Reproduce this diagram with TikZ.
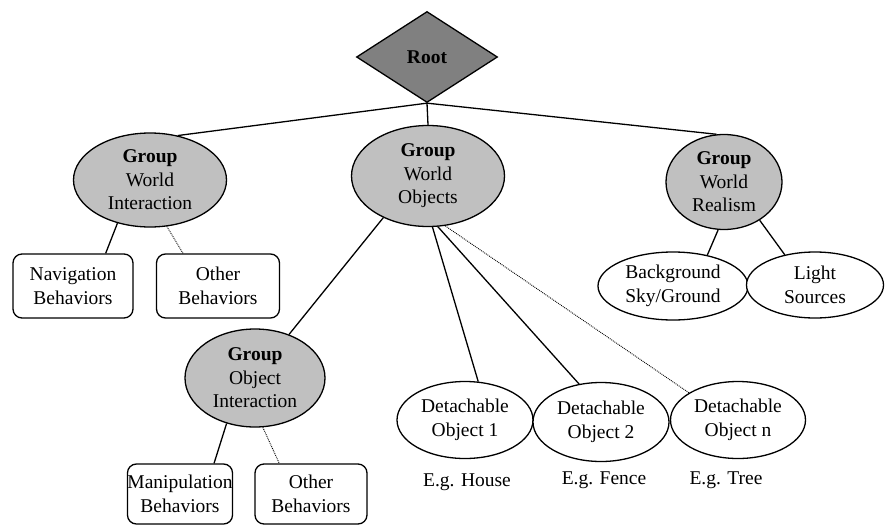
\documentclass[tikz,border=0pt]{standalone}
\usepackage{fontspec}
\setmainfont{Liberation Serif}
\usetikzlibrary{shapes.geometric}
\definecolor{rootgray}{HTML}{808080}
\definecolor{groupgray}{HTML}{C0C0C0}
\tikzset{
  txt/.style={font=\fontsize{19.5}{23.5}\selectfont, align=center, inner sep=0pt},
  groupnode/.style={txt, ellipse, draw, line width=1.3pt, fill=groupgray},
  leafell/.style={txt, ellipse, draw, line width=1.3pt, fill=white},
  leafbox/.style={txt, rectangle, rounded corners=9pt, draw, line width=1.3pt, fill=white},
  conn/.style={line width=1.3pt},
  dotconn/.style={line width=0.9pt, densely dotted},
}
\begin{document}
\begin{tikzpicture}[x=1pt, y=-1pt]
\useasboundingbox (0,0) rectangle (885,527);
\node[diamond, draw, line width=1.3pt, fill=rootgray, minimum width=141pt, minimum height=91pt, inner sep=0pt, aspect=1.55, font=\fontsize{19.5}{23.5}\selectfont\bfseries] (root) at (427,57) {Root};
\node[groupnode, minimum width=153pt, minimum height=94pt] (wi) at (150,180) {\textbf{Group}\\World\\Interaction};
\node[groupnode, minimum width=153pt, minimum height=101pt] (wo) at (428,176) {\textbf{Group}\\World\\Objects};
\node[groupnode, minimum width=116pt, minimum height=95pt] (wr) at (724,182) {\textbf{Group}\\World\\Realism};
\node[leafbox, minimum width=120pt, minimum height=64pt] (nav) at (73,286) {Navigation\\Behaviors};
\node[leafbox, minimum width=123pt, minimum height=64pt] (oth1) at (218,286) {Other\\Behaviors};
\node[leafell, minimum width=150pt, minimum height=68pt] (bg) at (673,286) {Background\\Sky/Ground};
\node[leafell, minimum width=137pt, minimum height=66pt] (ls) at (815,285) {Light\\Sources};
\node[groupnode, minimum width=140pt, minimum height=98pt] (oi) at (255,378) {\textbf{Group}\\Object\\Interaction};
\node[leafbox, minimum width=105pt, minimum height=60pt] (man) at (180,494) {Manipulation\\Behaviors};
\node[leafbox, minimum width=112pt, minimum height=60pt] (oth2) at (311,494) {Other\\Behaviors};
\node[leafell, minimum width=136pt, minimum height=77pt] (d1) at (465,420) {Detachable\\Object 1};
\node[leafell, minimum width=136pt, minimum height=79pt] (d2) at (601,422) {Detachable\\Object 2};
\node[leafell, minimum width=135pt, minimum height=77pt] (dn) at (738,420) {Detachable\\Object n};
\node[txt] (l1) at (467,482) {E.g. House};
\node[txt] (l2) at (604,480) {E.g. Fence};
\node[txt] (l3) at (726,480) {E.g. Tree};
\draw[conn] (root.south) -- (wi.58);
\draw[conn] (root.south) -- (wo.north);
\draw[conn] (root.south) -- (wr.99);
\draw[conn] (wi.233) -- (nav.45);
\draw[dotconn] (wi.290) -- (oth1.137.6);
\draw[conn] (wr.263) -- (bg.42);
\draw[conn] (wr.313) -- (ls.135);
\draw[conn] (wo.223) -- (oi.52.5);
\draw[conn] (wo.275) -- (d1.71.6);
\draw[conn] (wo.281) -- (d2.120);
\draw[dotconn] (wo.289.5) -- (dn.151);
\draw[conn] (oi.238) -- (man.42);
\draw[dotconn] (oi.279) -- (oth2.136);
\end{tikzpicture}
\end{document}
